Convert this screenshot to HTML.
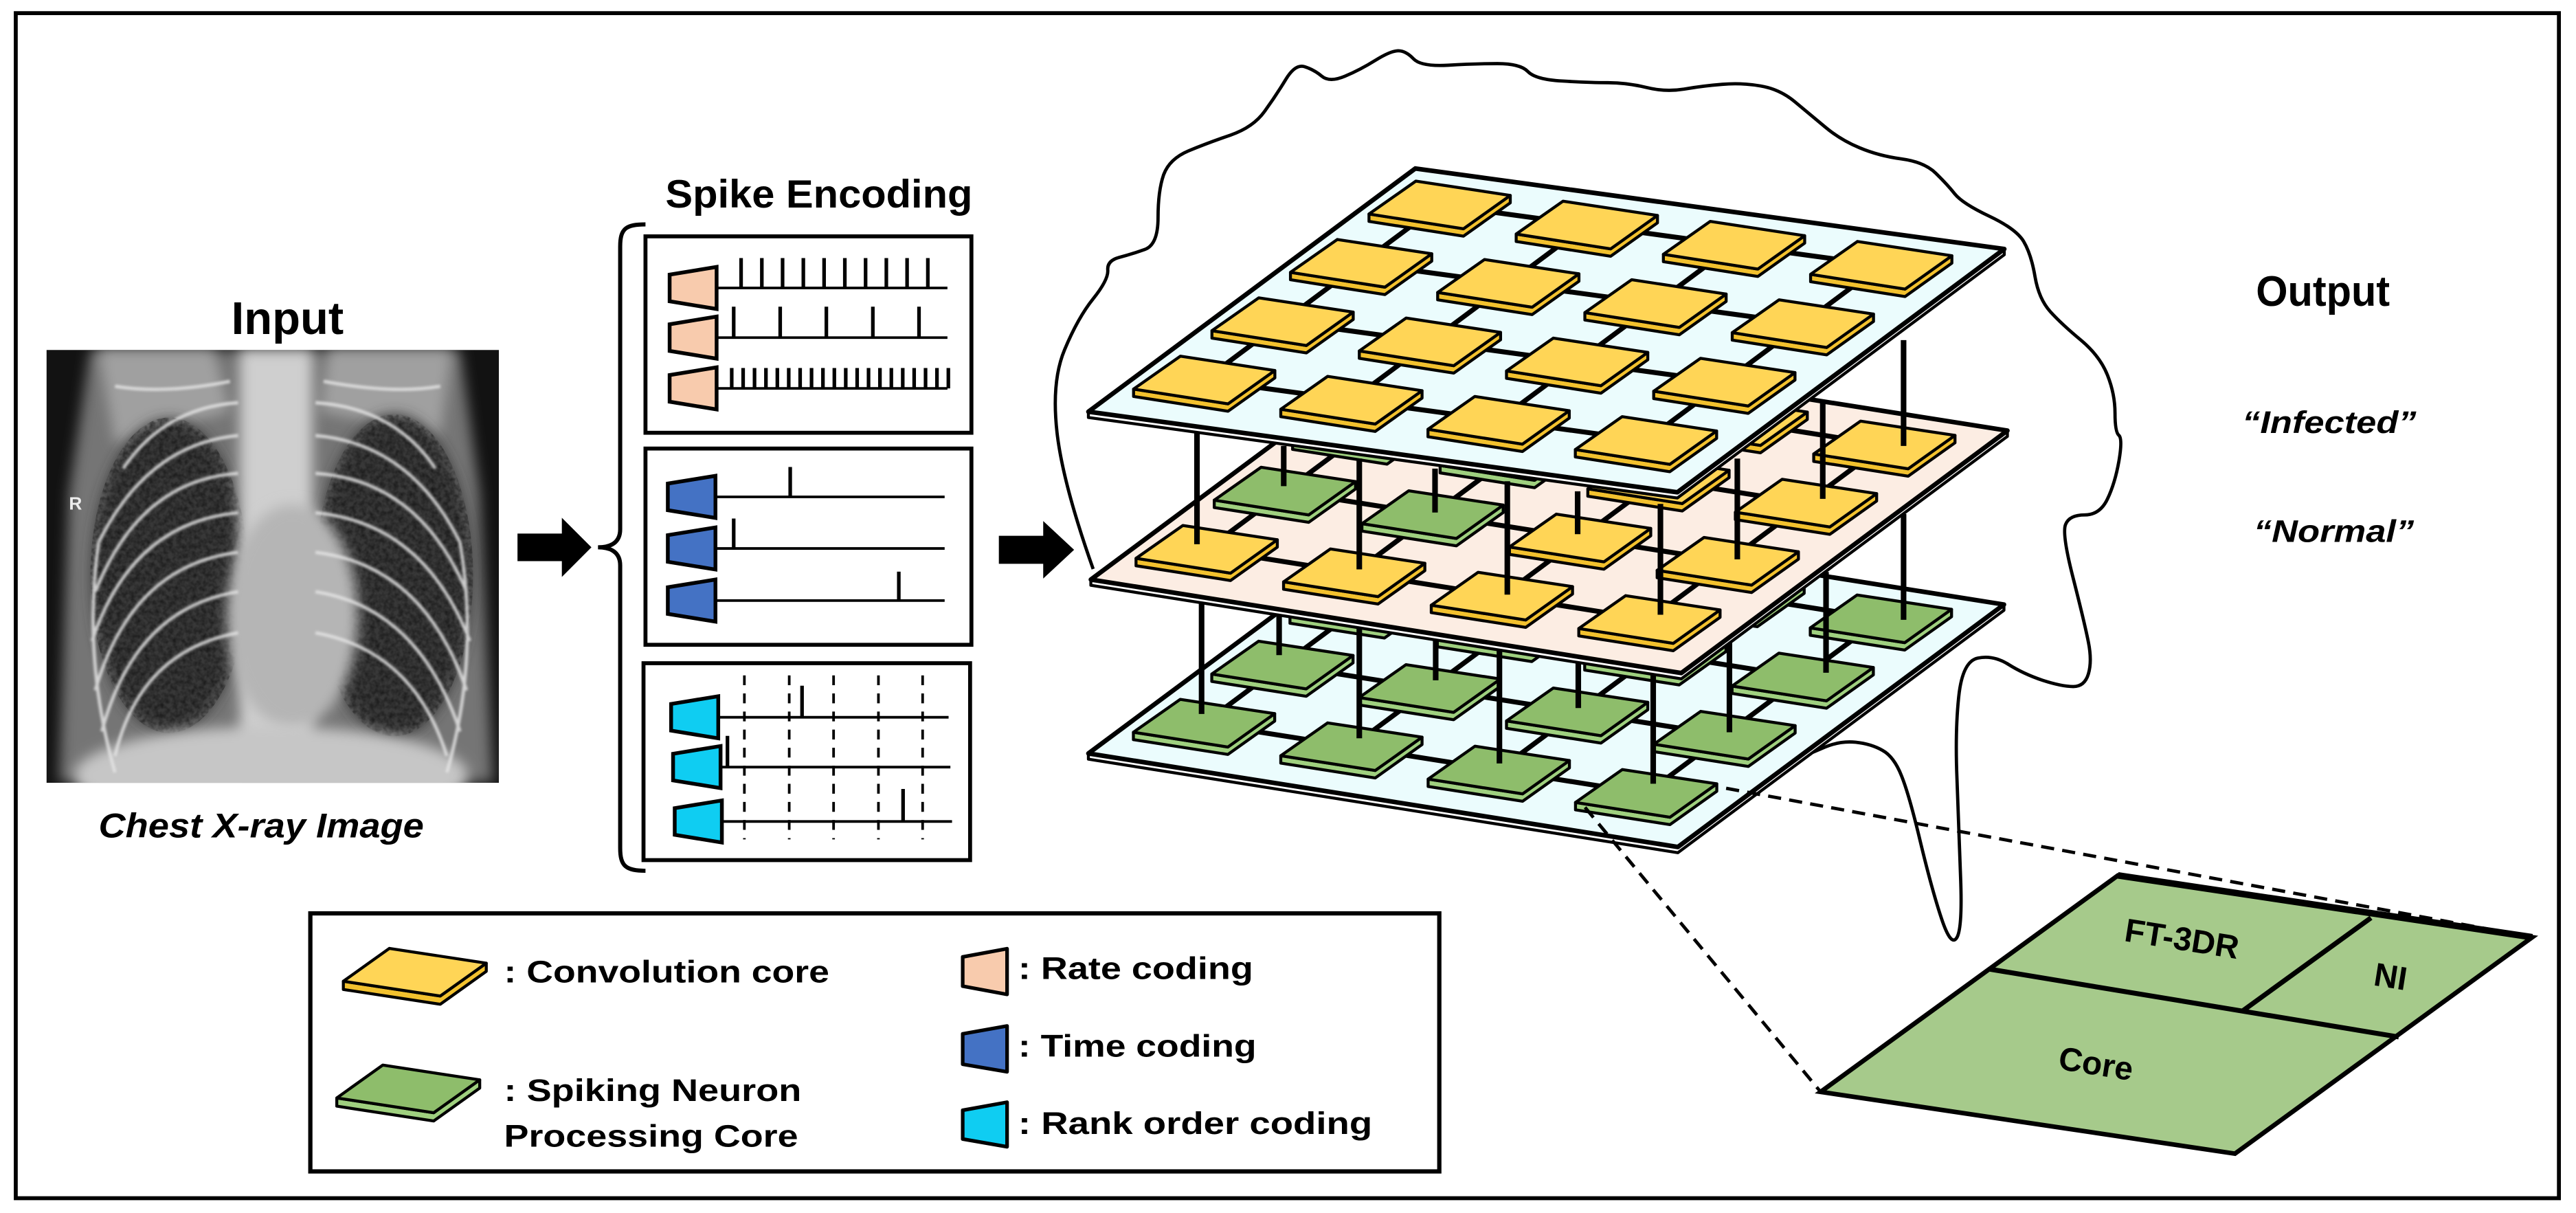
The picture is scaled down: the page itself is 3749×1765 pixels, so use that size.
<!DOCTYPE html>
<html><head><meta charset="utf-8"><style>
html,body{margin:0;padding:0;background:#fff;}
svg{display:block;}
text{font-family:"Liberation Sans",Arial,sans-serif;font-weight:bold;}
</style></head><body>
<svg id="s" width="3749" height="1765" viewBox="0 0 1568 738" preserveAspectRatio="none" xmlns="http://www.w3.org/2000/svg">
<defs>
<filter id="bl" x="-20%" y="-20%" width="140%" height="140%"><feGaussianBlur stdDeviation="4"/></filter>
<filter id="bl2"><feGaussianBlur stdDeviation="0.8"/></filter>
<filter id="noise" x="0" y="0" width="100%" height="100%"><feTurbulence type="fractalNoise" baseFrequency="0.35" numOctaves="2" seed="3"/><feColorMatrix type="matrix" values="0 0 0 0 0  0 0 0 0 0  0 0 0 0 0  0 0 0 -1.6 1.1"/></filter>
<clipPath id="xc"><rect x="28.3" y="212.9" width="275.4" height="263.4"/></clipPath>
<clipPath id="lc"><ellipse cx="103" cy="350" rx="48" ry="96"/><ellipse cx="240" cy="350" rx="48" ry="98"/></clipPath>
</defs>
<rect x="0" y="0" width="1568" height="738" fill="#fff"/>
<rect x="9.6" y="8" width="1548" height="721" fill="none" stroke="#000" stroke-width="2.4"/>

<!-- Input -->
<text x="175" y="203.3" font-size="28" text-anchor="middle">Input</text>
<g clip-path="url(#xc)">
<rect x="28.3" y="212.9" width="275.4" height="263.4" fill="#121212"/>
<path d="M55,212.9 L280,212.9 L292,300 L300,476 L36,476 L42,300 Z" fill="#757575" filter="url(#bl)"/>
<path d="M60,212.9 L130,212.9 L140,250 L70,270 Z" fill="#a0a0a0" filter="url(#bl)"/>
<path d="M200,212.9 L275,212.9 L268,265 L195,250 Z" fill="#a0a0a0" filter="url(#bl)"/>
<ellipse cx="103" cy="350" rx="47" ry="95" fill="#383838" filter="url(#bl)"/>
<ellipse cx="240" cy="350" rx="47" ry="98" fill="#383838" filter="url(#bl)"/>
<g clip-path="url(#lc)"><rect x="28" y="212" width="276" height="264" filter="url(#noise)" opacity="0.55"/></g>
<rect x="146" y="212.9" width="44" height="263.4" fill="#cfcfcf" filter="url(#bl)"/>
<ellipse cx="178" cy="375" rx="40" ry="68" fill="#b5b5b5" filter="url(#bl)"/>
<ellipse cx="165" cy="472" rx="120" ry="30" fill="#c6c6c6" filter="url(#bl)"/>
<g fill="none" stroke="#e4e4e4" stroke-width="2" opacity="0.85" filter="url(#bl2)">
<path d="M145,245 Q100,248 75,285"/><path d="M192,245 Q240,248 265,285"/>
<path d="M140,232 Q100,240 70,235"/><path d="M197,232 Q240,240 268,235"/>
<path d="M145,265 Q90,270 60,330"/><path d="M145,288 Q85,292 58,360"/><path d="M145,312 Q80,318 56,390"/>
<path d="M145,336 Q80,344 58,420"/><path d="M145,360 Q82,370 62,445"/><path d="M145,385 Q85,396 70,460"/>
<path d="M192,265 Q250,270 280,330"/><path d="M192,288 Q255,292 284,360"/><path d="M192,312 Q258,318 286,390"/>
<path d="M192,336 Q258,344 284,420"/><path d="M192,360 Q255,370 280,445"/><path d="M192,385 Q252,396 272,460"/>
<path d="M60,330 Q50,400 70,470"/><path d="M280,330 Q292,400 272,470"/>
</g>
<text x="42" y="310" font-size="11" fill="#eee" font-weight="normal">R</text>
</g>
<text x="159" y="509.5" font-size="21" font-style="italic" text-anchor="middle" textLength="198" lengthAdjust="spacingAndGlyphs">Chest X-ray Image</text>

<!-- arrows -->
<polygon points="315,324.6 342,324.6 342,315 360,333 342,351 342,341.4 315,341.4" fill="#000"/>
<polygon points="608,326 635,326 635,317 653.8,334.5 635,352 635,343 608,343" fill="#000"/>

<!-- brace -->
<path d="M392.9,136.5 C381,136.5 377.5,139 377.5,150 L377.5,322 C377.5,330 372,333 364,333 C372,333 377.5,336 377.5,344 L377.5,516 C377.5,527 381,529.8 392.9,529.8" fill="none" stroke="#000" stroke-width="2.5"/>

<text x="405" y="126.2" font-size="24" textLength="187" lengthAdjust="spacingAndGlyphs">Spike Encoding</text>
<g fill="none" stroke="#000" stroke-width="2.4">
<rect x="392.9" y="143.8" width="198.4" height="119.5"/>
<rect x="392.9" y="272.9" width="198.4" height="119.4"/>
<rect x="391.7" y="403.5" width="198.8" height="119.8"/>
</g>
<g id="enc"></g>

<!-- stack -->
<path id="cloud" fill="none" stroke="#000" stroke-width="2" stroke-linejoin="round"/>
<g id="stack"></g>

<!-- output -->
<text x="1373.2" y="186.1" font-size="26" textLength="81.5" lengthAdjust="spacingAndGlyphs">Output</text>
<text x="1364.8" y="263.5" font-size="19" font-style="italic" textLength="106" lengthAdjust="spacingAndGlyphs">“Infected”</text>
<text x="1371.8" y="329.7" font-size="19" font-style="italic" textLength="97.6" lengthAdjust="spacingAndGlyphs">“Normal”</text>

<!-- dashed zoom lines -->
<g stroke="#000" stroke-width="2" stroke-dasharray="8,5" fill="none">
<line x1="1050.7" y1="479.6" x2="1541.4" y2="570.2"/>
<line x1="964.8" y1="491.2" x2="1108.2" y2="664.3"/>
</g>
<!-- detail -->
<polygon points="1289.2,532.6 1541.4,570.2 1360.4,701.9 1108.2,664.3" fill="#a6ca8b" stroke="#000" stroke-width="2.8" stroke-linejoin="miter"/>
<line x1="1289.2" y1="532.6" x2="1541.4" y2="570.2" stroke="#000" stroke-width="4"/>
<line x1="1211.4" y1="589.7" x2="1460.1" y2="630.9" stroke="#000" stroke-width="3"/>
<line x1="1443.2" y1="558.4" x2="1365.4" y2="614.8" stroke="#000" stroke-width="3"/>
<text x="1328" y="578" font-size="20" text-anchor="middle" font-weight="bold" transform="rotate(9 1328 572)">FT-3DR</text>
<text x="1455" y="601" font-size="20" text-anchor="middle" transform="rotate(9 1455 595)">NI</text>
<text x="1275.7" y="654" font-size="20" text-anchor="middle" transform="rotate(9 1275.7 648)">Core</text>

<!-- legend -->
<rect x="188.9" y="555.7" width="687.2" height="157" fill="#fff" stroke="#000" stroke-width="2.6"/>
<g stroke="#000" stroke-width="1.8" stroke-linejoin="round">
<polygon points="209,597 268,606 296,586 296,591 268,611 209,602" fill="#f2c12e"/>
<polygon points="209,597 237,577 296,586 268,606" fill="#ffd556"/>
<polygon points="205,668 264,677 292,657 292,662 264,682 205,673" fill="#9fd07f"/>
<polygon points="205,668 233,648 292,657 264,677" fill="#8ebd6b"/>
<polygon points="586,582.2 613,577.2 613,605 586,600" fill="#f8cbad" stroke-width="2.2"/>
<polygon points="586,629 613,624.2 613,652.1 586,647.5" fill="#4472c4" stroke-width="2.2"/>
<polygon points="586,675.5 613,670.6 613,697.7 586,693" fill="#0fcdf2" stroke-width="2.2"/>
</g>
<text x="306.8" y="597.8" font-size="19" textLength="198" lengthAdjust="spacingAndGlyphs">: Convolution core</text>
<text x="306.8" y="669.9" font-size="19" textLength="181" lengthAdjust="spacingAndGlyphs">: Spiking Neuron</text>
<text x="306.8" y="697.7" font-size="19" textLength="179" lengthAdjust="spacingAndGlyphs">Processing Core</text>
<text x="619.8" y="595.7" font-size="19" textLength="143" lengthAdjust="spacingAndGlyphs">: Rate coding</text>
<text x="619.8" y="642.8" font-size="19" textLength="145" lengthAdjust="spacingAndGlyphs">: Time coding</text>
<text x="619.8" y="689.9" font-size="19" textLength="215.5" lengthAdjust="spacingAndGlyphs">: Rank order coding</text>
</svg>
<script>
var NS="http://www.w3.org/2000/svg";
function el(p,t,a){var e=document.createElementNS(NS,t);for(var k in a)e.setAttribute(k,a[k]);p.appendChild(e);return e;}
function pts(a){return a.map(function(p){return p[0].toFixed(1)+","+p[1].toFixed(1)}).join(" ");}
var enc=document.getElementById("enc");
function trap(xl,xr,cy,hl,hr,fill){el(enc,"polygon",{points:pts([[xl,cy-hl],[xr,cy-hr],[xr,cy+hr],[xl,cy+hl]]),fill:fill,stroke:"#000","stroke-width":2.3});}
function line(x1,y1,x2,y2,w,extra){var a={x1:x1,y1:y1,x2:x2,y2:y2,stroke:"#000","stroke-width":w};if(extra)for(var k in extra)a[k]=extra[k];el(enc,"line",a);}
var rate=[175.2,205.4,236.3];
rate.forEach(function(y){line(436,y,576.7,y,1.6);trap(407.6,436.2,y,8.1,12.8,"#f8cbad");});
for(var i=0;i<10;i++)line(451.1+i*12.63,157,451.1+i*12.63,175.2,2.2);
[446.6,474.9,503,531.3,559.4].forEach(function(x){line(x,186.6,x,205.4,2.2);});
for(var i=0;i<20;i++)line(445.4+i*6.94,223.9,445.4+i*6.94,236.3,2.2);
var tm=[302.3,333.7,365.4];
tm.forEach(function(y){line(435,y,575,y,1.6);trap(406.5,435.5,y,8.1,12.8,"#4472c4");});
line(481,284.1,481,302.3,2.2);line(446.6,315.5,446.6,333.7,2.2);line(547.1,347.8,547.1,365.4,2.2);
[453.1,480.4,507.4,534.7,561.6].forEach(function(x){line(x,410.9,x,510.7,1.6,{"stroke-dasharray":"6,5"});});
var rk=[[436.4,408.5,437.2,577.4],[466.7,409.7,438.6,578.5],[499.8,410.7,439.4,579.5]];
rk.forEach(function(r){line(r[2],r[0],r[3],r[0],1.6);trap(r[1],r[2],r[0],8.1,12.8,"#0fcdf2");});
line(488.2,417.2,488.2,436.4,2.2);line(442.8,447.7,442.8,466.7,2.2);line(549.7,480,549.7,499.8,2.2);
var cp=[[665.4,346.2],[646.9,294],[639.9,232.1],[656.1,193.4],[674.7,170.2],[673.8,158.6],[688.6,154.7],[704.9,148.9],[704.9,116],[711.8,96.7],[735,87],[762.9,77.4],[776.8,58],[788.4,38.7],[800,42.5],[809.3,50.3],[827.9,42.5],[846.5,30.9],[855.7,30.9],[865,40.6],[897.5,38.7],[925.4,38.7],[934.7,48.4],[967.2,50.3],[990.4,50.3],[1013.6,56.1],[1036.8,52.2],[1060,50.3],[1083.2,54.2],[1101.8,69.6],[1120.3,85.1],[1143.5,94.8],[1171.4,98.6],[1185.3,112.2],[1194.6,123.8],[1227.1,139.2],[1236.4,154.7],[1241,181.8],[1255,197.3],[1278.2,216.6],[1287.4,239.8],[1287.4,263],[1292.1,266.9],[1287.4,294],[1278.2,313.3],[1259.6,313.3],[1255,324.9],[1268.9,379.1],[1273.5,402.3],[1268.9,417.7],[1255,417.7],[1231.7,410],[1213.2,398.4],[1194.6,402.3],[1190,444.8],[1192.3,502.8],[1194.6,564.7],[1187.6,576.3],[1176,541.5],[1162.1,483.5],[1152.8,460.3],[1138.9,452.6],[1120.3,450.6],[1101.8,458.4]];
var d="M"+cp[0][0]+","+cp[0][1];
for(var i=1;i<cp.length-1;i++){var mx=(cp[i][0]+cp[i+1][0])/2,my=(cp[i][1]+cp[i+1][1])/2;d+=" Q"+cp[i][0]+","+cp[i][1]+" "+mx.toFixed(1)+","+my.toFixed(1);}
d+=" L"+cp[cp.length-1][0]+","+cp[cp.length-1][1];
document.getElementById("cloud").setAttribute("d",d);
var st=document.getElementById("stack");
var UV=[0.105,0.355,0.605,0.855],VV=[0.165,0.405,0.645,0.885];
function P(L,U,V,u,v){return [L[0]+u*U[0]+v*V[0],L[1]+u*U[1]+v*V[1]];}
function layer(L,U,V,fill,colorFn){
 var B=[L[0]+U[0],L[1]+U[1]],T=[L[0]+V[0],L[1]+V[1]],R=[B[0]+V[0],B[1]+V[1]];
 el(st,"polygon",{points:pts([L,B,R,[R[0],R[1]+3.5],[B[0],B[1]+3.5],[L[0],L[1]+3.5]]),fill:"#fff",stroke:"#000","stroke-width":1.8,"stroke-linejoin":"round"});
 el(st,"polygon",{points:pts([L,B,R,T]),fill:fill,stroke:"#000","stroke-width":2.8,"stroke-linejoin":"round"});
 for(var j=0;j<4;j++){var a=P(L,U,V,UV[0],VV[j]),b=P(L,U,V,UV[3],VV[j]);el(st,"line",{x1:a[0],y1:a[1],x2:b[0],y2:b[1],stroke:"#000","stroke-width":3});}
 for(var i=0;i<4;i++){var a=P(L,U,V,UV[i],VV[0]),b=P(L,U,V,UV[i],VV[3]);el(st,"line",{x1:a[0],y1:a[1],x2:b[0],y2:b[1],stroke:"#000","stroke-width":3});}
 for(var j=3;j>=0;j--)for(var i=0;i<4;i++){var c=P(L,U,V,UV[i],VV[j]);tile(c,colorFn(i,j));}
}
function tile(c,col){
 var l=[c[0]-43,c[1]+5.5],b=[c[0]+14.5,c[1]+14.5],r=[c[0]+43,c[1]-5.8],t=[c[0]-14.5,c[1]-14.5],h=4.5;
 var top=col=="y"?"#ffd556":"#8ebd6b",side=col=="y"?"#f2c12e":"#9fd07f";
 el(st,"polygon",{points:pts([l,b,r,[r[0],r[1]+h],[b[0],b[1]+h],[l[0],l[1]+h]]),fill:side,stroke:"#000","stroke-width":1.8,"stroke-linejoin":"round"});
 el(st,"polygon",{points:pts([l,b,r,t]),fill:top,stroke:"#000","stroke-width":1.8,"stroke-linejoin":"round"});
}
function pillars(arr){arr.forEach(function(p){el(st,"line",{x1:p[0],y1:p[1],x2:p[0],y2:p[2],stroke:"#000","stroke-width":3.4});});}
var V=[198.5,-147.5];
layer([662.5,458.4],[358.8,56.9],V,"#ebfcfd",function(){return "g";});
pillars([[731.4,366.4,434.4],[778.6,374,398.6],[827.4,381.7,449.2],[873.9,387.8,413.9],[912.7,394,464.5],[960.7,401.6,430.8],[1006.3,409.3,476.8],[1052.7,387.8,445.5],[1111.5,348,409.3],[1158.7,312.7,377.1]]);
layer([664,352.6],[359.4,56.9],V,"#fcede3",function(i,j){return (j>0&&i<2)?"g":"y";});
pillars([[728.6,263.6,331.1],[781.4,271.3,295.8],[827.4,279,346.4],[873.5,285.1,311.8],[917.5,292.8,361.8],[960.3,298.9,325],[1010.7,306.6,374],[1057.5,279,340.3],[1109.5,243.7,303.5],[1158.7,206.9,271.3]]);
layer([662.5,250.5],[358.5,49],[199,-148],"#ebfcfd",function(){return "y";});
</script>
</body></html>
